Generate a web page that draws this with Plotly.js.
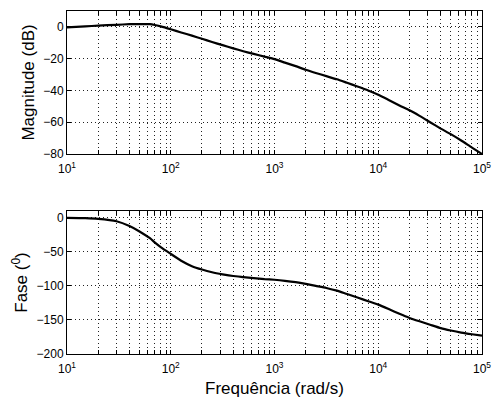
<!DOCTYPE html>
<html>
<head>
<meta charset="utf-8">
<script src="https://cdn.plot.ly/plotly-3.0.1.min.js"></script>
<style>
html,body{margin:0;padding:0;background:#fff;}
#chart{width:493px;height:398px;}
</style>
</head>
<body>
<div id="chart"></div>
<script>
// Frequencies (rad/s)
var freq = [10, 15, 20, 30, 40, 50, 63, 70, 80, 100, 126, 160, 200, 250, 316, 400, 500, 630, 800, 1000,
            1260, 1600, 2000, 2500, 3160, 4000, 5000, 6300, 8000, 10000, 12600, 16000, 20000, 25000, 31600,
            40000, 50000, 63000, 80000, 100000];
// Magnitude (dB)
var magDb = [-0.3, 0.3, 0.8, 1.3, 1.7, 1.8, 1.7, 1.2, 0.3, -1.5, -3.5, -5.5, -7.5, -9.5, -11.5, -13.5, -15.3, -17, -18.7, -20.3,
             -22.5, -24.7, -27, -29, -31, -33, -35.2, -37.5, -40, -42.7, -46, -49.5, -52.5, -56, -60,
             -64, -67.5, -71.5, -76, -80];
// Phase (degrees)
var phaseDeg = [0, -0.5, -1.5, -5, -12, -20, -30, -36, -43, -53, -63, -71, -76, -80, -83, -85.5, -87, -88.5, -90, -91,
                -92.5, -94.5, -97, -100, -103, -107, -112, -117, -122.5, -127.5, -134, -141, -147, -152, -157,
                -162, -165.5, -168.5, -171, -173];

var magTicks = [0, -20, -40, -60, -80];
var phaseTicks = [0, -50, -100, -150, -200];

// log tick positions (1..9 per decade), labels only at decades
var xTickVals = [], xTickText = [];
for (var d = 1; d <= 5; d++) {
  for (var m = 1; m <= 9; m++) {
    if (d === 5 && m > 1) break;
    xTickVals.push(m * Math.pow(10, d));
    xTickText.push(m === 1 ? '10<sup>' + d + '</sup>' : '');
  }
}

var font = {family: 'Liberation Sans, Arial, sans-serif', size: 12, color: '#000'};
var titleFont = {family: 'Liberation Sans, Arial, sans-serif', size: 17, color: '#000'};

function xAxis(anchor) {
  return {
    type: 'log', range: [1, 5], anchor: anchor,
    tickmode: 'array', tickvals: xTickVals, ticktext: xTickText,
    ticks: 'inside', ticklen: 4, tickcolor: '#000', ticklabelstandoff: 4,
    showline: true, linecolor: '#000', linewidth: 1, mirror: 'ticks',
    showgrid: true, gridcolor: '#222', gridwidth: 1, griddash: '1px,3px',
    zeroline: false, tickfont: font
  };
}
function yAxis(anchor, range, vals, domain, title) {
  return {
    range: range, anchor: anchor, domain: domain,
    tickmode: 'array', tickvals: vals,
    ticks: 'inside', ticklen: 4, tickcolor: '#000',
    showline: true, linecolor: '#000', linewidth: 1, mirror: 'ticks',
    showgrid: true, gridcolor: '#222', gridwidth: 1, griddash: '1px,3px',
    zeroline: false, tickfont: font,
    title: {text: title, font: titleFont, standoff: 4}
  };
}

var traces = [
  {x: freq, y: magDb, xaxis: 'x', yaxis: 'y', mode: 'lines',
   line: {color: '#000', width: 2.2, shape: 'spline', smoothing: 0.5}, hoverinfo: 'none'},
  {x: freq, y: phaseDeg, xaxis: 'x2', yaxis: 'y2', mode: 'lines',
   line: {color: '#000', width: 2.2, shape: 'spline', smoothing: 0.5}, hoverinfo: 'none'}
];

var xa2 = xAxis('y2');
xa2.title = {text: 'Frequência (rad/s)', font: titleFont, standoff: 7};

var layout = {
  width: 493, height: 398,
  margin: {l: 67, r: 11, t: 11, b: 44},
  paper_bgcolor: '#fff', plot_bgcolor: '#fff',
  showlegend: false,
  font: font,
  xaxis: xAxis('y'),
  xaxis2: xa2,
  yaxis: yAxis('x', [-80, 10], magTicks, [0.5831, 1], 'Magnitude (dB)'),
  yaxis2: yAxis('x2', [-200, 10], phaseTicks, [0, 0.4169], 'Fase (<sup>0</sup>)')
};

Plotly.newPlot('chart', traces, layout, {staticPlot: true, displayModeBar: false});
</script>
</body>
</html>
